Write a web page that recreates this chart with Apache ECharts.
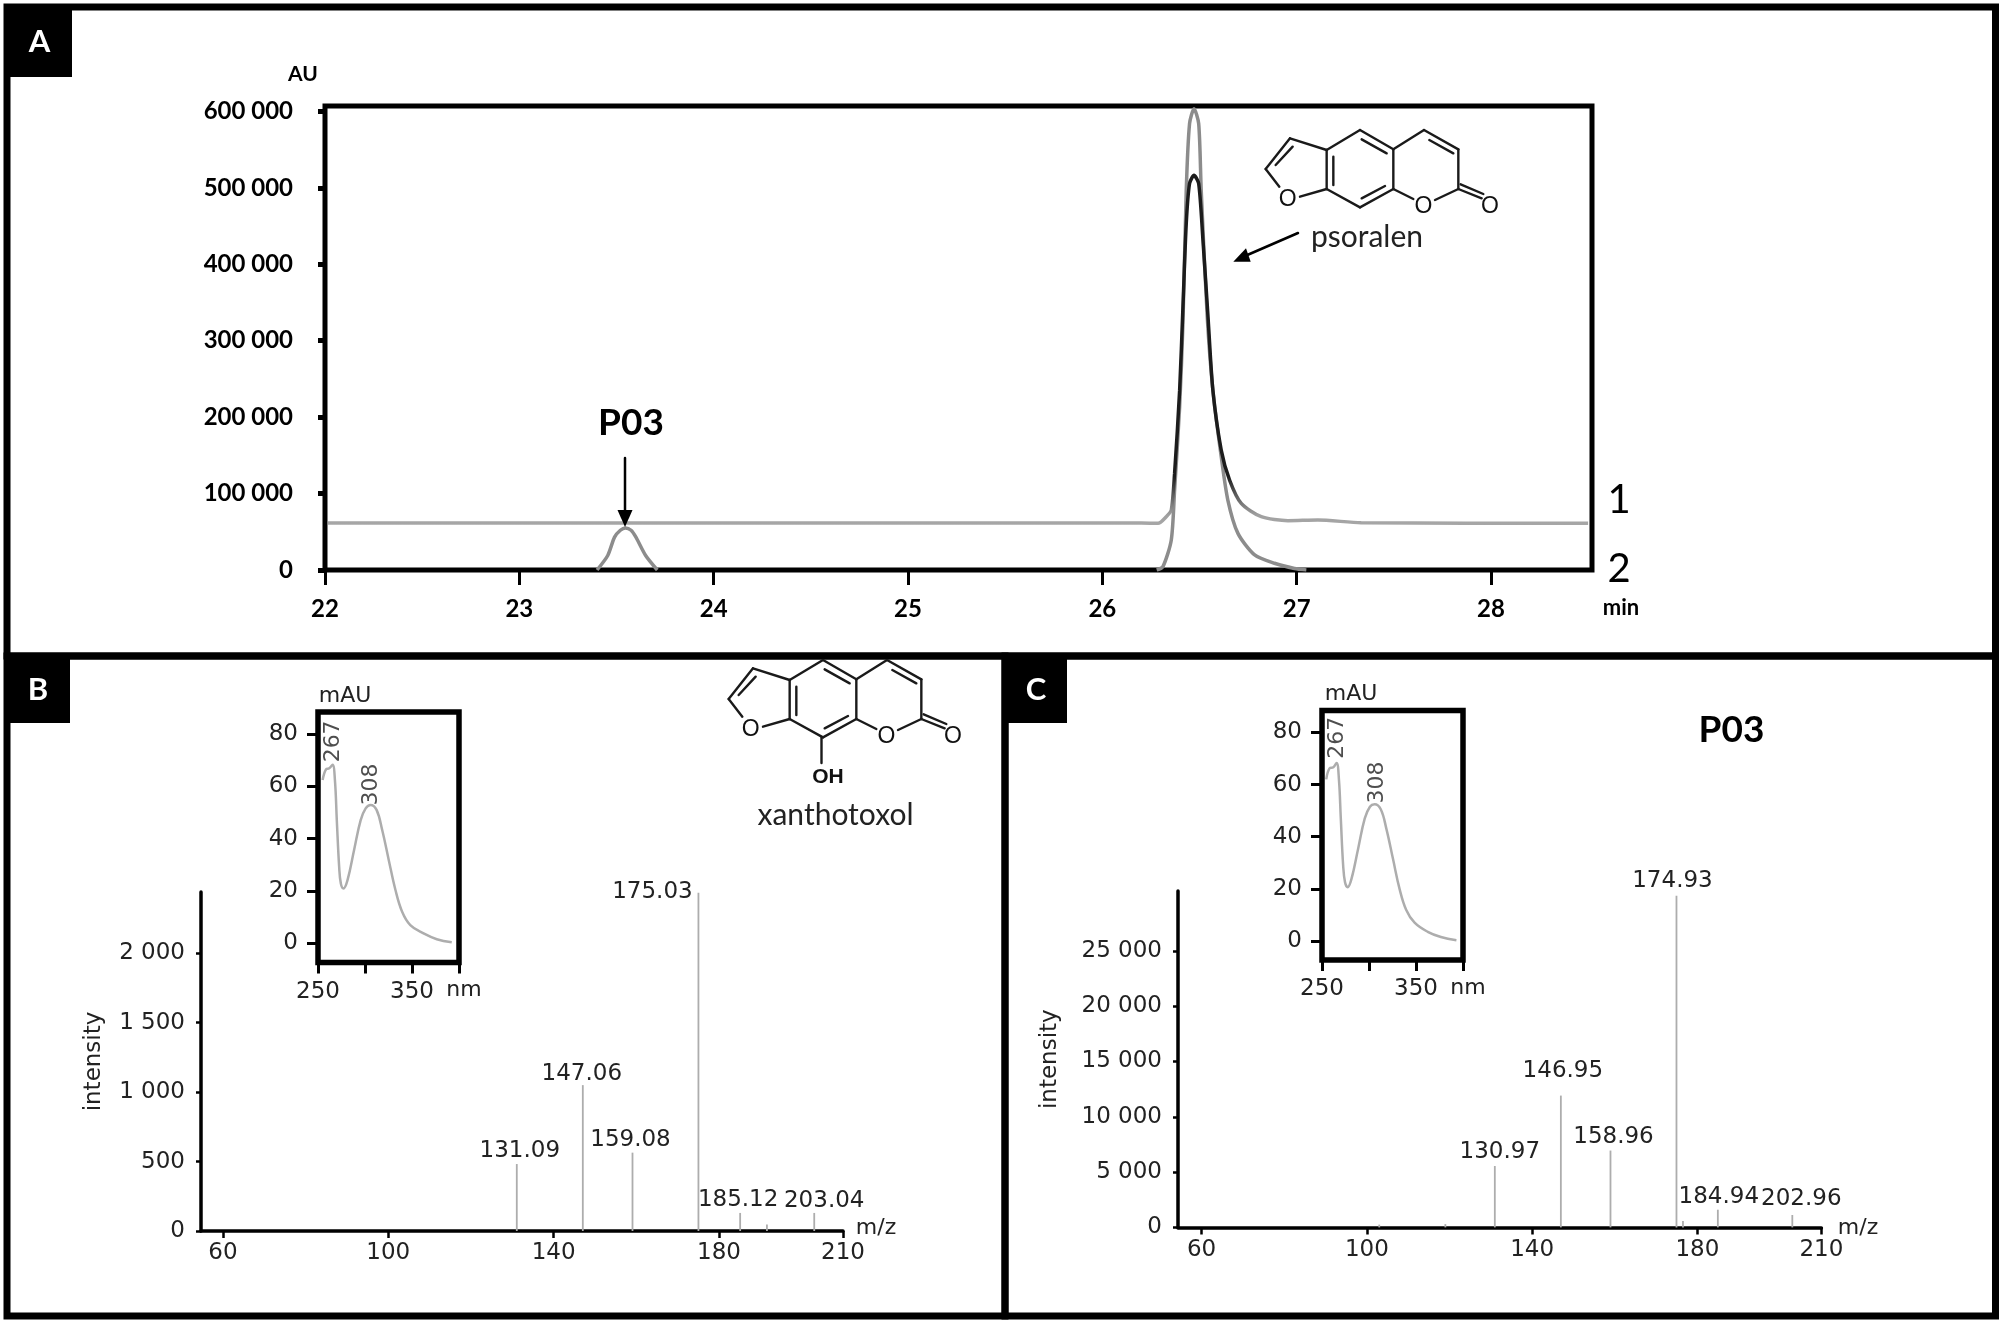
<!DOCTYPE html>
<html><head><meta charset="utf-8">
<script src="https://cdn.jsdelivr.net/npm/echarts@6/dist/echarts.min.js"></script>
<style>html,body{margin:0;padding:0;background:#fff}#c{width:2000px;height:1323px}</style>
</head><body><div id="c"></div>
<script>
// ---------- data ----------
const trace1 = [[22.015,61400],[26.2,61400],[26.287,61000],[26.329,69700],[26.355,78500],[26.372,126400],[26.398,235300],[26.415,344200],[26.432,453200],[26.449,505500],[26.472,516300],[26.496,505500],[26.518,431400],[26.544,331200],[26.569,235300],[26.612,156900],[26.655,117700],[26.715,87200],[26.818,69700],[26.955,64500],[27.109,65400],[27.332,61900],[28.5,61000]];
// trace 2 sits on the axis line between its peaks, so only the peaks are visible
const trace2 = [[23.4,0],[23.455,19000],[23.49,43000],[23.52,52000],[23.546,55000],[23.575,52000],[23.6,43000],[23.65,19000],[23.71,0],[23.8,null],[26.28,0],[26.312,4400],[26.355,39300],[26.372,104600],[26.398,213500],[26.415,322500],[26.432,496700],[26.449,583900],[26.472,603500],[26.496,583900],[26.509,496700],[26.54,331200],[26.569,235300],[26.612,148200],[26.646,91500],[26.698,47900],[26.784,19700],[26.886,8800],[26.989,2000],[27.05,0]];
const timeTicks = [22,23,24,25,26,27,28];
const auTicks = [0,100000,200000,300000,400000,500000,600000];

const mzB = [131.09,147.06,159.08,175.03,185.12,191.6,203.04];
const intensityB = [482,1050,564,2435,130,47,130];
const peakLabelsB = ['131.09','147.06','159.08','175.03','185.12','','203.04'];
const intensityTicksB = [0,500,1000,1500,2000];

const mzC = [103,119,130.97,146.95,158.96,174.93,176.5,184.94,202.96];
const intensityC = [250,300,5550,11920,6950,30000,580,1600,1120];
const peakLabelsC = ['','','130.97','146.95','158.96','174.93','','184.94','202.96'];
const intensityTicksC = [0,5000,10000,15000,20000,25000];

const mzTicks = [60,100,140,180,210];
const nmTicks = [250,300,350,400];
const nmLabels = [250,350];
const mauTicks = [0,20,40,60,80];
const uvB = [[254.9,62.4],[258.5,66.5],[262,66.9],[265.5,68.2],[268,62.4],[270,47.1],[272.5,29.3],[274.3,22.9],[277.1,21],[281.4,24.2],[288.4,35.7],[295.4,47.1],[300.7,51.6],[306,52.9],[312.3,51],[318.3,43.3],[325.3,31.8],[332.4,20.4],[339.5,12.1],[348.2,7],[362.3,3.8],[376.4,1.6],[392.3,0.4]];
const uvC = [[254.5,62],[258,66.2],[262,66.6],[265.5,68.3],[268,62],[270,47],[272.5,29],[274.5,22.5],[277.3,20.6],[281.5,24],[288.5,35.5],[295.5,47],[301,51.5],[306,52.4],[312.5,50.5],[318.5,43],[325.5,31.5],[332.5,20],[339.5,12],[348.5,7],[362.5,3.5],[376.5,1.5],[393,0.3]];
const uvPeaksNm = [265.5,306];
const uvPeaksMau = [68.2,52.9];
const uvPeakLabels = ['267','308'];

// ---------- layout ----------
const labelOffsetsB = [[3,-2],[-1,0],[-2,-1],[-46,11],[-2,-1],[0,0],[10,0]];
const labelOffsetsC = [[0,0],[0,0],[5,-2],[2,-13],[3,-2],[-4,-3],[0,0],[1,-1],[9,-4]];
const sans = 'Lato', dv = '"DejaVu Sans"';
const spaced = v => String(v).replace(/\B(?=(\d{3})+$)/g,' ');

function stems(xi, mz, vals, labels, offs){
  return {type:'bar',xAxisIndex:xi,yAxisIndex:xi,barWidth:1.8,itemStyle:{color:'#adadad'},silent:true,
    data:mz.map((m,i)=>({value:[m,vals[i]],label:{show:!!labels[i],position:'top',distance:0,formatter:labels[i],offset:offs[i],
      fontFamily:dv,fontSize:23,color:'#222'}}))};
}
function massX(g,left){return {gridIndex:g,type:'value',min:left,max:210,
  axisLine:{show:true,lineStyle:{color:'#000',width:3.5},onZero:false},splitLine:{show:false},
  axisTick:{show:true,customValues:mzTicks,length:7,lineStyle:{color:'#000',width:2.5}},
  axisLabel:{customValues:mzTicks,margin:11,fontFamily:dv,fontSize:23,color:'#222'}};}
function massY(g,max,ticks,gap){return {gridIndex:g,type:'value',min:0,max:max,name:'intensity',nameLocation:'middle',nameGap:gap,nameRotate:90,
  nameTextStyle:{fontFamily:dv,fontSize:23,color:'#222'},
  axisLine:{show:true,lineStyle:{color:'#000',width:3.5}},splitLine:{show:false},
  axisTick:{show:true,customValues:ticks,length:5,lineStyle:{color:'#000',width:2.5}},
  axisLabel:{customValues:ticks,formatter:spaced,margin:16,fontFamily:dv,fontSize:23,color:'#222'}};}
function uvX(g){return {gridIndex:g,type:'value',min:250,max:400,
  axisLine:{show:false,onZero:false},splitLine:{show:false},
  axisTick:{show:true,customValues:nmTicks,length:11,lineStyle:{color:'#000',width:3}},
  axisLabel:{customValues:nmLabels,margin:18,fontFamily:dv,fontSize:23,color:'#222'}};}
function uvY(g){return {gridIndex:g,type:'value',min:-7.3,max:88.4,
  axisLine:{show:false,onZero:false},splitLine:{show:false},
  axisTick:{show:true,customValues:mauTicks,length:11,lineStyle:{color:'#000',width:3}},
  axisLabel:{customValues:mauTicks,margin:20,fontFamily:dv,fontSize:23,color:'#222'}};}
function uvLine(g,d){return {type:'line',xAxisIndex:g,yAxisIndex:g,data:d,smooth:0.4,symbol:'none',silent:true,lineStyle:{color:'#adadad',width:2.5}};}
function uvMarks(g,offs){return {type:'scatter',xAxisIndex:g,yAxisIndex:g,symbolSize:1,silent:true,itemStyle:{color:'transparent'},
  data:uvPeaksNm.map((n,i)=>({value:[n,uvPeaksMau[i]],label:{show:true,formatter:uvPeakLabels[i],rotate:90,position:'top',distance:0,offset:offs[i],
    fontFamily:dv,fontSize:22,color:'#222'}}))};}

function line(pts,w,c){return {type:'polyline',z:30,silent:true,shape:{points:pts},style:{stroke:c||'#111',lineWidth:w||2,fill:null,lineCap:'round',lineJoin:'round'}};}
function txt(t,x,y,font,fill){return {type:'text',z:40,silent:true,x:x,y:y,style:{text:t,x:0,y:0,font:font,fill:fill||'#000',align:'center',verticalAlign:'middle'}};}
function rect(x,y,w,h,stroke,fill,lw){return {type:'rect',z:stroke?20:25,silent:true,shape:{x,y,width:w,height:h},style:{stroke:stroke||null,fill:fill||null,lineWidth:lw||0}};}
function poly(pts){return {type:'polygon',z:30,silent:true,shape:{points:pts},style:{fill:'#000'}};}

const bonds = [[[620,180],[720,120]],[[720,120],[820,178]],[[725,148],[800,190]],[[820,178],[820,297]],[[820,297],[720,352]],[[725,325],[795,288]],
  [[720,352],[620,297]],[[620,297],[620,180]],[[640,200],[640,285]],[[620,180],[510,145]],[[510,145],[437,237]],[[518,170],[467,225]],
  [[437,237],[478,290]],[[540,320],[620,297]],[[820,178],[912,120]],[[912,120],[1015,178]],[[928,150],[1000,190]],[[1015,178],[1015,297]],
  [[1015,297],[945,330]],[[820,297],[880,327]],[[1015,297],[1085,325]],[[1022,283],[1090,312]]];
const atoms = [[503,330],[910,350],[1110,350]];
function molecule(ox,oy){
  const P=p=>[ox+p[0]/3,oy+p[1]/3], out=[];
  bonds.forEach(b=>out.push(line(b.map(P),2.4,'#1a1a1a')));
  atoms.forEach(a=>{const q=P(a);out.push(txt('O',q[0],q[1],'23px "Liberation Sans"','#111'));});
  return out;
}

const graphics = [
  rect(7,7,1988.5,649,'#000',null,7), rect(7,656,998,660,'#000',null,7), rect(1005,656,990.5,660,'#000',null,7),
  rect(7,7,65,70,null,'#000'), rect(7,656,63,67,null,'#000'), rect(1005,656,62,67,null,'#000'),
  txt('A',39.5,42,'bold 31px Lato','#fff'), txt('B',38,690,'bold 31px Lato','#fff'), txt('C',1036,690,'bold 31px Lato','#fff'),
  txt('AU',303,74,'bold 21px Lato'), txt('min',1621,608,'bold 22px Lato'),
  txt('1',1619,500,'40px Lato'), txt('2',1619,569,'40px Lato'),
  txt('P03',631,423,'bold 37px Lato'),
  line([[625,458],[625,514]],2.5,'#000'), poly([[617.5,510],[632.5,510],[625,527]]),
  txt('psoralen',1367,237,'30px Lato','#222'),
  line([[1298,233],[1245,256]],2.5,'#000'), poly([[1233.3,261.7],[1246,248.3],[1250.7,261.7]]),
  ...molecule(1120,90),
  ...molecule(583,620),
  line([[821.5,737],[821.5,763]],2.4,'#1a1a1a'), txt('OH',828,777,'bold 21px "Liberation Sans"','#111'),
  txt('xanthotoxol',835.5,815,'30px Lato','#222'),
  txt('P03',1731.5,730,'bold 37px Lato'),
  txt('mAU',345,696,'22px '+dv,'#222'), txt('nm',464,990,'22px '+dv,'#222'),
  txt('mAU',1351,694,'22px '+dv,'#222'), txt('nm',1468,988,'22px '+dv,'#222'),
  txt('m/z',876,1228,'22px '+dv,'#222'), txt('m/z',1858,1228,'22px '+dv,'#222')
];

const option = {
  backgroundColor:'#fff', animation:false,
  grid:[
    {left:325,width:1267,top:106,height:464,show:true,borderWidth:5,borderColor:'#000',backgroundColor:'transparent'},
    {left:201,width:642,top:892,height:339},
    {left:318,width:141,top:712,height:250.5,show:true,borderWidth:5.5,borderColor:'#000'},
    {left:1178,width:643.4,top:891,height:336.4},
    {left:1322,width:141,top:710.5,height:249.5,show:true,borderWidth:5.5,borderColor:'#000'}
  ],
  xAxis:[
    {gridIndex:0,type:'value',min:22,max:28.52,axisLine:{show:false,onZero:false},splitLine:{show:false},
      axisTick:{show:true,customValues:timeTicks,length:15,lineStyle:{color:'#000',width:3}},
      axisLabel:{customValues:timeTicks,margin:27,fontFamily:sans,fontWeight:'bold',fontSize:24,color:'#000'}},
    massX(1,54.7), uvX(2), massX(3,54.3), uvX(4)
  ],
  yAxis:[
    {gridIndex:0,type:'value',min:0,max:607000,axisLine:{show:false},splitLine:{show:false},
      axisTick:{show:true,customValues:auTicks,length:7,lineStyle:{color:'#000',width:5}},
      axisLabel:{customValues:auTicks,formatter:spaced,margin:32,fontFamily:sans,fontWeight:'bold',fontSize:24,color:'#000'}},
    massY(1,2440,intensityTicksB,95), uvY(2), massY(3,30420,intensityTicksC,116), uvY(4)
  ],
  graphic:{elements:graphics},
  series:[
    {type:'line',xAxisIndex:0,yAxisIndex:0,data:trace2,smooth:0.25,symbol:'none',silent:true,connectNulls:false,lineStyle:{color:'#8c8c8c',width:3.5}},
    {type:'line',xAxisIndex:0,yAxisIndex:0,data:trace1,smooth:0.25,symbol:'none',silent:true,
      lineStyle:{width:3.5,color:new echarts.graphic.LinearGradient(0,0,0,1,[{offset:0,color:'#1c1c1c'},{offset:0.86,color:'#1c1c1c'},{offset:0.97,color:'#a0a0a0'},{offset:1,color:'#a8a8a8'}])}},
    stems(1,mzB,intensityB,peakLabelsB,labelOffsetsB),
    stems(3,mzC,intensityC,peakLabelsC,labelOffsetsC),
    uvLine(2,uvB), uvMarks(2,[[23,12],[20,12]]),
    uvLine(4,uvC), uvMarks(4,[[25,12],[20,14]])
  ]
};
const chart = echarts.init(document.getElementById('c'),null,{renderer:'canvas',width:2000,height:1323});
chart.setOption(option);
</script></body></html>
